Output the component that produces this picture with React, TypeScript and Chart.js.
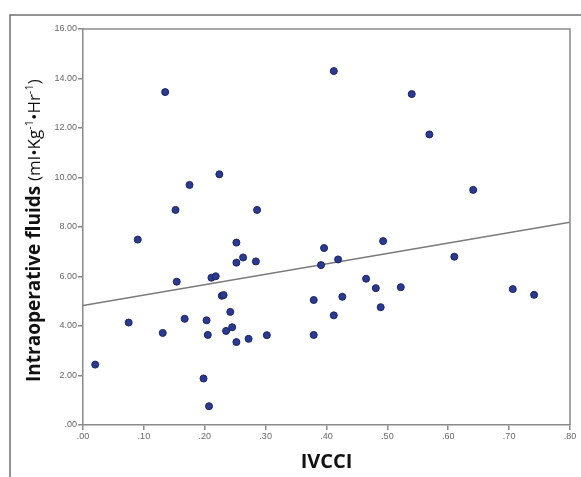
import React, { useEffect, useRef } from "react";
import { Chart, registerables } from "chart.js";

Chart.register(...registerables);

// IVCCI (x) values
const ivcci = [
  0.135, 0.224, 0.175, 0.152, 0.286, 0.090, 0.252, 0.263, 0.396, 0.252,
  0.284, 0.391, 0.154, 0.211, 0.218, 0.228, 0.231, 0.379, 0.242, 0.075,
  0.167, 0.203, 0.131, 0.205, 0.235, 0.245, 0.252, 0.272, 0.302, 0.379,
  0.020, 0.198, 0.207, 0.412, 0.540, 0.569, 0.641, 0.493, 0.419, 0.610,
  0.465, 0.481, 0.522, 0.426, 0.489, 0.412, 0.706, 0.741,
];
// Intraoperative fluids (y) values
const fluids = [
  13.45, 10.13, 9.70, 8.69, 8.69, 7.49, 7.37, 6.77, 7.15, 6.56,
  6.61, 6.46, 5.79, 5.95, 6.01, 5.22, 5.25, 5.05, 4.57, 4.14,
  4.29, 4.23, 3.72, 3.64, 3.80, 3.95, 3.35, 3.48, 3.63, 3.64,
  2.44, 1.88, 0.76, 14.30, 13.37, 11.74, 9.50, 7.43, 6.69, 6.80,
  5.91, 5.53, 5.57, 5.18, 4.76, 4.43, 5.49, 5.26,
];
// Fit line end points
const fitX = [0, 0.8];
const fitY = [4.83, 8.19];

const xTicks = [0, 0.1, 0.2, 0.3, 0.4, 0.5, 0.6, 0.7, 0.8];
const yTicks = [0, 2, 4, 6, 8, 10, 12, 14, 16];

const xTitle = "IVCCI";
const yTitleBold = "Intraoperative fluids ";

const fmt = (v: number) => {
  const s = Number(v).toFixed(2);
  return s.startsWith("0") ? s.slice(1) : s;
};

const decorPlugin = {
  id: "decor",
  beforeDraw(chart: any) {
    const { ctx, width, height } = chart;
    ctx.save();
    ctx.fillStyle = "#ffffff";
    ctx.fillRect(0, 0, width, height);
    ctx.restore();
  },
  afterDraw(chart: any) {
    const { ctx, chartArea } = chart;
    ctx.save();
    // outer frame (top and left)
    ctx.strokeStyle = "#6f6f6f";
    ctx.lineWidth = 1.5;
    ctx.beginPath();
    ctx.moveTo(10, 600);
    ctx.lineTo(10, 15);
    ctx.lineTo(700, 15);
    ctx.stroke();
    // plot box top/right
    ctx.strokeStyle = "#8a8a8a";
    ctx.lineWidth = 1.5;
    ctx.beginPath();
    ctx.moveTo(chartArea.left, chartArea.top);
    ctx.lineTo(chartArea.right, chartArea.top);
    ctx.lineTo(chartArea.right, chartArea.bottom);
    ctx.stroke();

    // x title
    ctx.fillStyle = "#111";
    ctx.font = "bold 20px 'Open Sans'";
    ctx.textAlign = "center";
    ctx.textBaseline = "alphabetic";
    ctx.fillText(xTitle, (chartArea.left + chartArea.right) / 2, 467.5);

    // y title (rotated)
    ctx.translate(39.5, 382);
    ctx.rotate(-Math.PI / 2);
    ctx.textAlign = "left";
    let x = 0;
    ctx.font = "bold 19px 'Open Sans'";
    ctx.fillText(yTitleBold, x, 0);
    x += ctx.measureText(yTitleBold).width;
    const segs: [string, boolean][] = [
      ["(ml•Kg", false],
      ["-1", true],
      ["•Hr", false],
      ["-1", true],
      [")", false],
    ];
    for (const [t, sup] of segs) {
      ctx.font = sup ? "11px 'Open Sans'" : "17px 'Open Sans'";
      ctx.fillText(t, x, sup ? -7 : 0);
      x += ctx.measureText(t).width;
    }
    ctx.restore();
  },
};

export default function App() {
  const ref = useRef<HTMLCanvasElement | null>(null);
  useEffect(() => {
    if (!ref.current) return;
    const chart = new Chart(ref.current, {
      type: "scatter",
      data: {
        datasets: [
          {
            type: "scatter",
            data: ivcci.map((x, i) => ({ x, y: fluids[i] })),
            backgroundColor: "#2b3a91",
            borderColor: "#1b2466",
            borderWidth: 1,
            pointRadius: 3.5,
            order: 0,
          } as any,
          {
            type: "line",
            data: fitX.map((x, i) => ({ x, y: fitY[i] })),
            borderColor: "#7a7a7a",
            borderWidth: 1.5,
            pointRadius: 0,
            showLine: true,
            fill: false,
            order: 1,
          } as any,
        ],
      },
      options: {
        responsive: false,
        devicePixelRatio: 1,
        animation: false,
        layout: { padding: { left: 0, top: 29, right: 11, bottom: 0 } },
        plugins: { legend: { display: false }, tooltip: { enabled: false } },
        scales: {
          x: {
            type: "linear",
            min: 0,
            max: 0.8,
            afterBuildTicks: (s: any) => {
              s.ticks = xTicks.map((v) => ({ value: v }));
            },
            afterFit: (s: any) => {
              s.height = 52;
            },
            ticks: {
              callback: (v: any) => fmt(v),
              font: { family: "'Liberation Sans'", size: 9 },
              color: "#666",
              padding: 1,
              maxRotation: 0,
            },
            grid: { drawOnChartArea: false, tickLength: 5, color: "#8a8a8a", lineWidth: 1.5 },
            border: { display: true, color: "#8a8a8a", width: 1.5 },
          },
          y: {
            type: "linear",
            min: 0,
            max: 16,
            afterBuildTicks: (s: any) => {
              s.ticks = yTicks.map((v) => ({ value: v }));
            },
            afterFit: (s: any) => {
              s.width = 83;
            },
            ticks: {
              callback: (v: any) => fmt(v),
              font: { family: "'Liberation Sans'", size: 9 },
              color: "#666",
              padding: 1,
            },
            grid: { drawOnChartArea: false, tickLength: 5, color: "#8a8a8a", lineWidth: 1.5 },
            border: { display: true, color: "#8a8a8a", width: 1.5 },
          },
        },
      },
      plugins: [decorPlugin],
    });
    return () => chart.destroy();
  }, []);
  return (
    <div style={{ position: "absolute", left: 0, top: 0, width: 581, height: 477 }}>
      <canvas ref={ref} width={581} height={477} style={{ width: 581, height: 477 }} />
    </div>
  );
}
